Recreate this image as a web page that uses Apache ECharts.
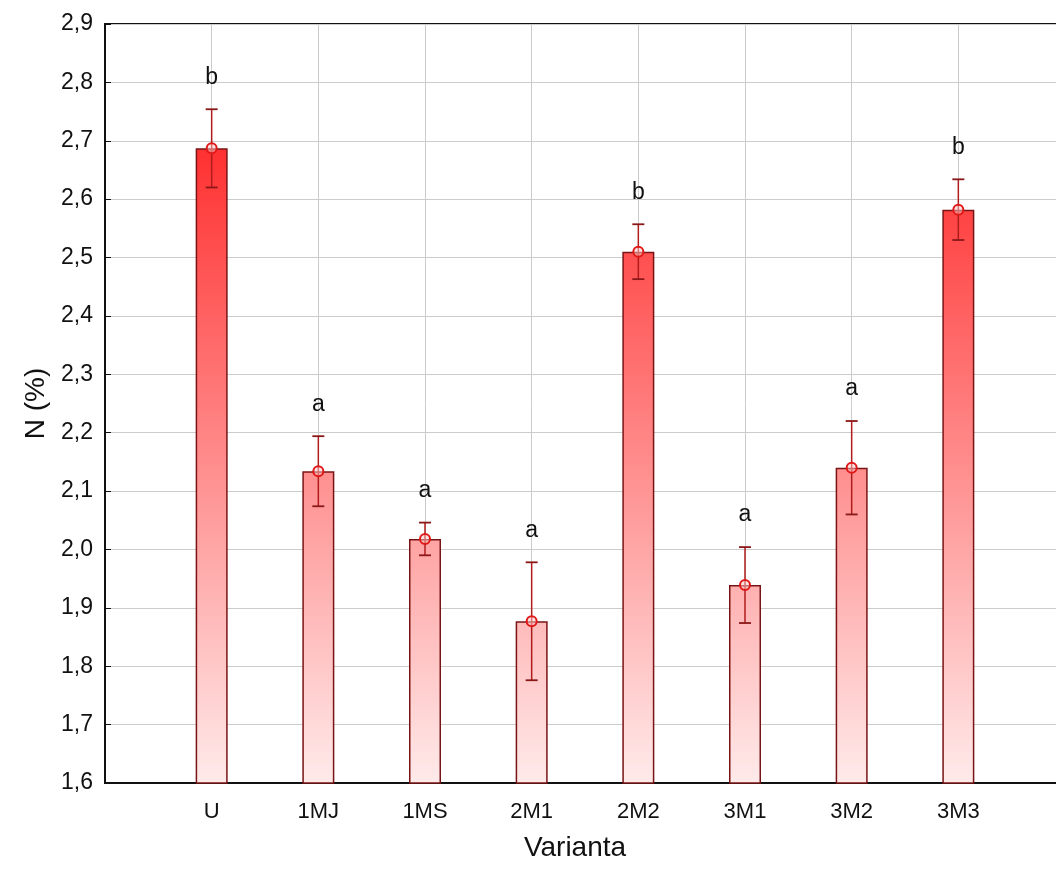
<!DOCTYPE html>
<html>
<head>
<meta charset="utf-8">
<script src="https://cdn.jsdelivr.net/npm/echarts@6/dist/echarts.min.js"></script>
<style>
  html, body { margin: 0; padding: 0; background: #fff; }
  #chart { width: 1056px; height: 875px; }
</style>
</head>
<body>
<div id="chart"></div>
<script>
// Nitrogen content per variant: mean with error half-width and group letter
const categories = ['U', '1MJ', '1MS', '2M1', '2M2', '3M1', '3M2', '3M3'];
const means = [2.687, 2.134, 2.018, 1.877, 2.510, 1.939, 2.140, 2.582];
const errors = [0.067, 0.060, 0.028, 0.101, 0.047, 0.065, 0.080, 0.052];
const groups = ['b', 'a', 'a', 'a', 'b', 'a', 'a', 'b'];
const yTicks = [1.6, 1.7, 1.8, 1.9, 2.0, 2.1, 2.2, 2.3, 2.4, 2.5, 2.6, 2.7, 2.8, 2.9];

const FONT = '"Liberation Sans", Arial, sans-serif';
// The plot runs a little past the right edge of the page
const GRID_TOP = 24, GRID_BOTTOM = 92, GRID_LEFT = 105, GRID_WIDTH = 960;

// Categories sit one step in from each edge of the plot, so pad the axis with blanks
const axisCats = [''].concat(categories, ['']);
const barData = [null].concat(means, [null]);
const errData = categories.map((c, i) => [i + 1, means[i], means[i] - errors[i], means[i] + errors[i], groups[i]]);

const chart = echarts.init(document.getElementById('chart'), null, { renderer: 'canvas' });

// Fill shades by height across the whole plot, not per bar
const barFill = new echarts.graphic.LinearGradient(0, GRID_TOP, 0, 875 - GRID_BOTTOM, [
  { offset: 0, color: '#ff0c0c' },
  { offset: 1, color: '#ffeaea' }
], true);

chart.setOption({
  backgroundColor: '#ffffff',
  animation: false,
  grid: {
    left: GRID_LEFT, width: GRID_WIDTH, top: GRID_TOP, bottom: GRID_BOTTOM,
    outerBoundsMode: 'none',
    containLabel: false,
    show: true, borderColor: '#111', borderWidth: 2, backgroundColor: 'transparent'
  },
  xAxis: {
    type: 'category',
    data: axisCats,
    boundaryGap: false,
    name: 'Varianta',
    nameLocation: 'middle',
    nameGap: 51,
    nameTextStyle: { fontFamily: FONT, fontSize: 28, color: '#111', padding: [0, 20, 0, 0] },
    axisLine: { lineStyle: { color: '#111', width: 2 } },
    axisTick: { inside: true, length: 6, lineStyle: { color: '#111' }, interval: (i, v) => v !== '' },
    axisLabel: { fontFamily: FONT, fontSize: 22, color: '#111', margin: 18, interval: 0 },
    splitLine: { show: true, interval: (i, v) => v !== '', lineStyle: { color: '#cccccc', width: 1 } }
  },
  yAxis: {
    type: 'value',
    min: yTicks[0],
    max: yTicks[yTicks.length - 1],
    interval: 0.1,
    name: 'N (%)',
    nameLocation: 'middle',
    nameGap: 47,
    nameRotate: 90,
    nameTextStyle: { fontFamily: FONT, fontSize: 28, color: '#111' },
    axisLine: { show: true, lineStyle: { color: '#111', width: 2 } },
    axisTick: { show: true, inside: true, length: 6, lineStyle: { color: '#111' } },
    axisLabel: {
      fontFamily: FONT, fontSize: 23, color: '#111', margin: 12,
      formatter: v => v.toFixed(1).replace('.', ',')
    },
    splitLine: { show: true, lineStyle: { color: '#cccccc', width: 1 } }
  },
  series: [
    {
      type: 'bar',
      data: barData,
      barWidth: 32,
      clip: true,
      itemStyle: { color: barFill, borderColor: '#7a1414', borderWidth: 1.5 }
    },
    {
      type: 'custom',
      data: errData,
      clip: false,
      z: 5,
      renderItem: function (params, api) {
        const x = api.value(0);
        const mid = api.coord([x, api.value(1)]);
        const lo = api.coord([x, api.value(2)]);
        const hi = api.coord([x, api.value(3)]);
        const cap = 6;
        const lineStyle = { stroke: '#b01c1c', lineWidth: 1.5 };
        return {
          type: 'group',
          children: [
            { type: 'line', shape: { x1: hi[0], y1: hi[1], x2: lo[0], y2: lo[1] }, style: lineStyle },
            { type: 'line', shape: { x1: hi[0] - cap, y1: hi[1], x2: hi[0] + cap, y2: hi[1] }, style: { stroke: '#8a1818', lineWidth: 1.8 } },
            { type: 'line', shape: { x1: lo[0] - cap, y1: lo[1], x2: lo[0] + cap, y2: lo[1] }, style: { stroke: '#8a1818', lineWidth: 1.8 } },
            { type: 'circle', shape: { cx: mid[0], cy: mid[1], r: 5 }, style: { fill: 'rgba(255,200,200,0.5)', stroke: '#e01818', lineWidth: 2 } },
            {
              type: 'text',
              style: {
                x: hi[0], y: hi[1] - 32, text: api.value(4),
                fontFamily: FONT, fontSize: 23, fill: '#111',
                align: 'center', verticalAlign: 'middle'
              }
            }
          ]
        };
      }
    }
  ]
});
</script>
</body>
</html>
